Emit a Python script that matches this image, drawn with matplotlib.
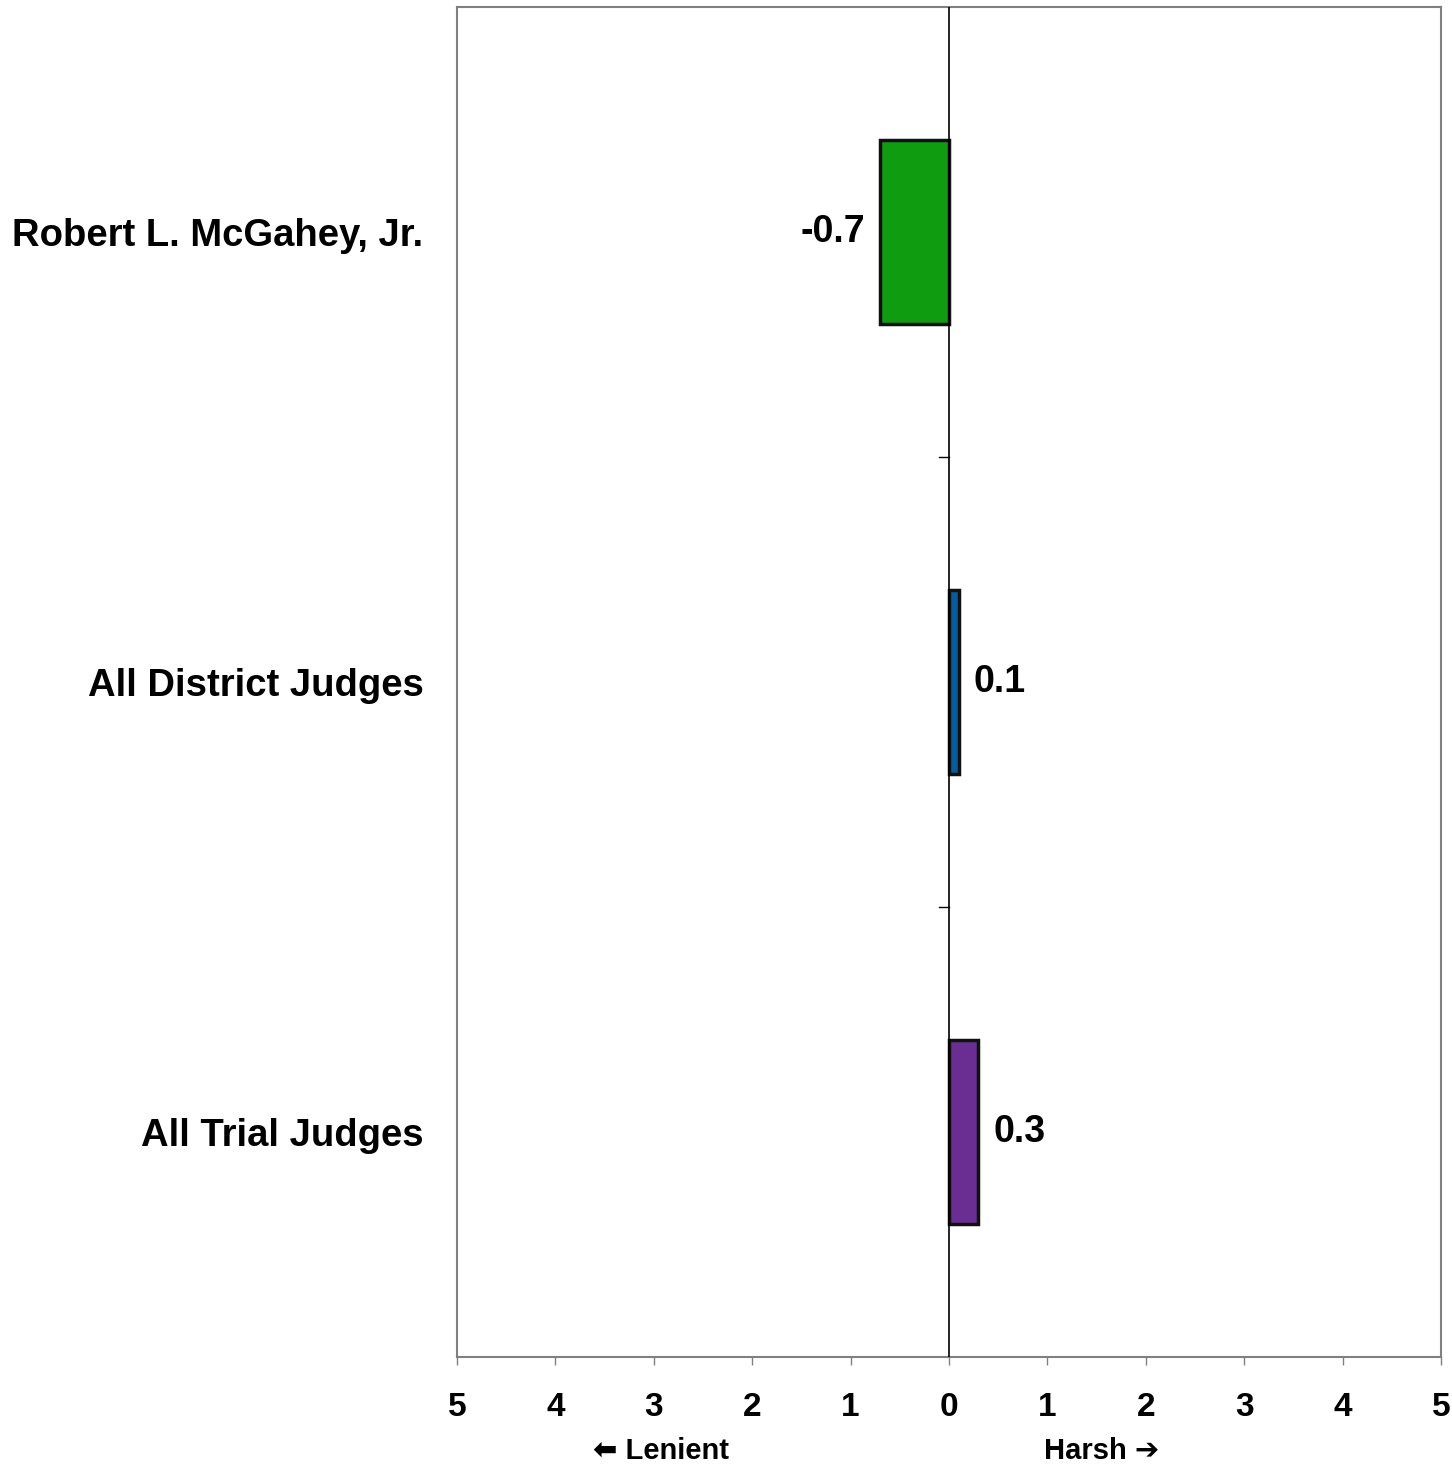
import matplotlib
matplotlib.use("Agg")
import matplotlib.pyplot as plt
import matplotlib.transforms as mtransforms

plt.rcParams['font.family'] = ['Liberation Sans', 'DejaVu Sans']
plt.rcParams['font.weight'] = 'bold'

# data
judges = ["Robert L. McGahey, Jr.", "All District Judges", "All Trial Judges"]
scores = [-0.7, 0.1, 0.3]
value_labels = ["-0.7", "0.1", "0.3"]
bar_colors = ["#109c10", "#0a5b9c", "#6a2d92"]
xticks = [-5, -4, -3, -2, -1, 0, 1, 2, 3, 4, 5]
xtick_labels = ["5", "4", "3", "2", "1", "0", "1", "2", "3", "4", "5"]

fig = plt.figure(figsize=(14.52, 14.66), dpi=100)
ax = fig.add_axes([0.3147, 0.0744, 0.6777, 0.9208])

ypos = list(range(len(judges)))
ax.barh(ypos, scores, height=0.41, color=bar_colors, edgecolor="#111111",
        linewidth=2.5, zorder=3)

# zero line and small category ticks on it
ax.axvline(0, color="black", linewidth=1.2, zorder=4)
for b in [0.5, 1.5]:
    ax.plot([-0.1, 0], [b, b], color="black", linewidth=1, zorder=4)

# value labels
for y, v, lab in zip(ypos, scores, value_labels):
    if v < 0:
        ax.text(v - 0.15, y, lab, ha="right", va="center", fontsize=27,
                fontweight="bold")
    else:
        ax.text(v + 0.15, y, lab, ha="left", va="center", fontsize=27,
                fontweight="bold")

ax.set_xlim(-5, 5)
ax.set_ylim(2.5, -0.5)
ax.set_xticks(xticks)
ax.set_xticklabels(xtick_labels, fontsize=24, fontweight="bold")
ax.set_yticks(ypos)
ax.set_yticklabels(judges, fontsize=27.5, fontweight="bold")
ax.tick_params(axis="y", length=0, pad=24)
ax.tick_params(axis="x", length=6, width=1, color="#808080", pad=19)

for s in ax.spines.values():
    s.set_color("#808080")
    s.set_linewidth(1.5)

trans = mtransforms.blended_transform_factory(ax.transData, fig.transFigure)
ax.text(-2.93, 0.001, "\u2b05 Lenient", ha="center", va="bottom",
        fontsize=21, fontweight="bold", transform=trans)
ax.text(1.55, 0.001, "Harsh \u2794", ha="center", va="bottom",
        fontsize=21, fontweight="bold", transform=trans)

fig.savefig("out.png", dpi=100)
